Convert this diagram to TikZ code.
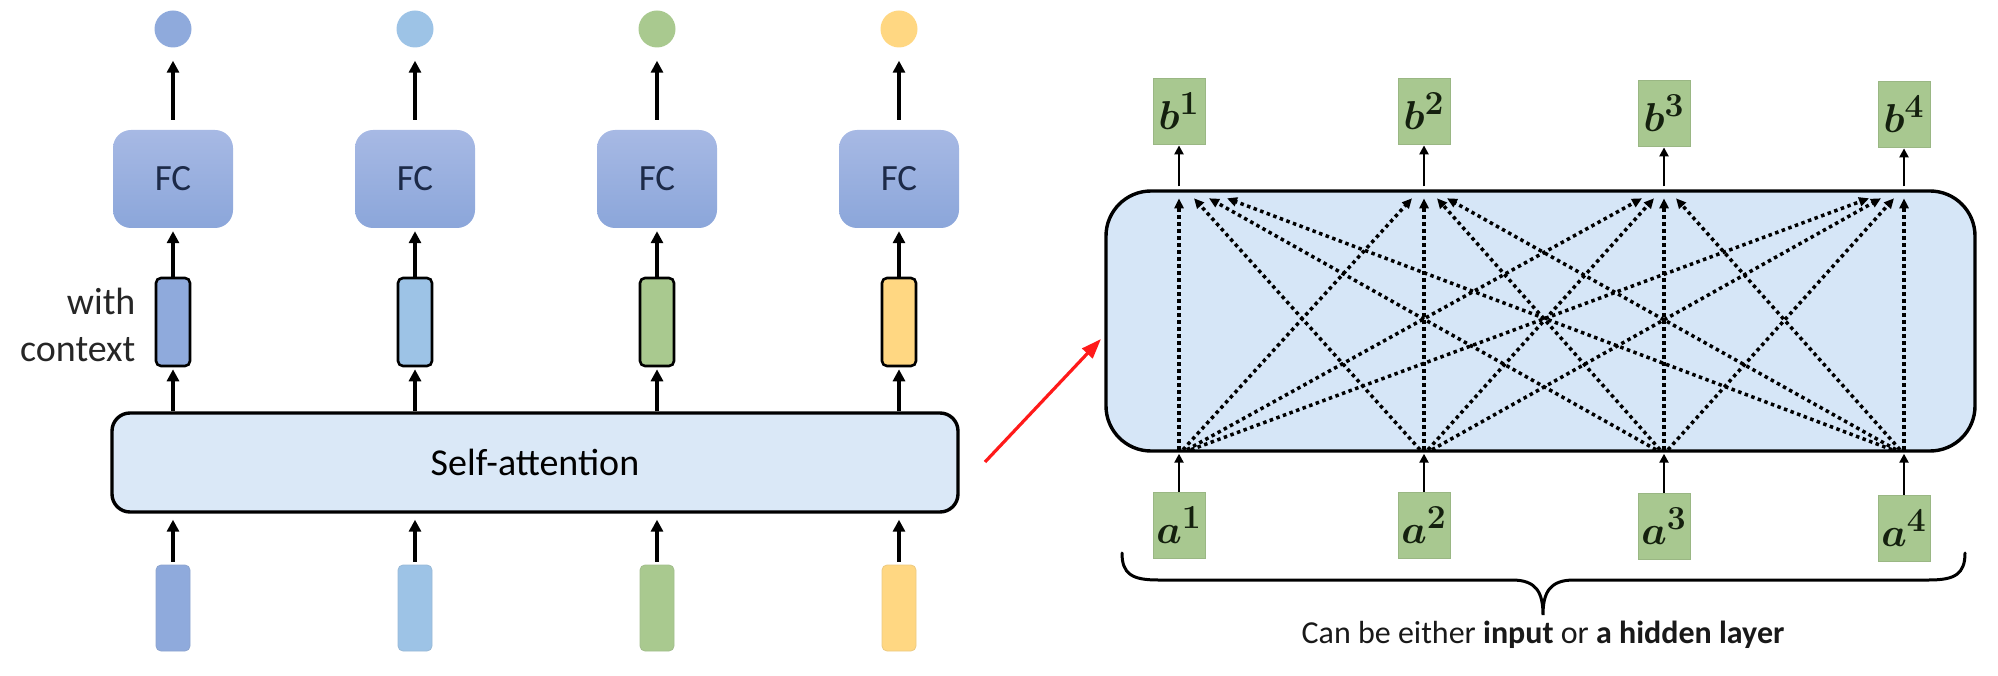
\documentclass[tikz,border=0pt]{standalone}
\usepackage[no-math]{fontspec}
\setmainfont{Carlito}
\usepackage{bm}
\usepackage{graphicx}
\usetikzlibrary{arrows.meta,calc}
\definecolor{cA}{HTML}{8FAADC}
\definecolor{cB}{HTML}{9DC3E6}
\definecolor{cC}{HTML}{A9C98F}
\definecolor{cD}{HTML}{FFD782}
\definecolor{fcTop}{HTML}{A7B9E4}
\definecolor{fcBot}{HTML}{8BA6DA}
\definecolor{fcText}{HTML}{1C2A48}
\definecolor{saFill}{HTML}{DAE8F7}
\definecolor{rbFill}{HTML}{D6E6F7}
\definecolor{gFill}{HTML}{A8C890}
\definecolor{gLine}{HTML}{9AB784}
\definecolor{gText}{HTML}{14200E}
\definecolor{redA}{HTML}{FF1A1A}
\newcommand{\glab}[2]{\scalebox{1.62}{$\bm{#1}^{\mathbf{#2}}$}}
\begin{document}
\begin{tikzpicture}[x=1pt,y=-1pt,
  outc/.style={circle, minimum size=37pt, inner sep=0pt},
  fcbox/.style={rectangle, rounded corners=18pt, minimum width=120pt, minimum height=98pt,
    top color=fcTop, bottom color=fcBot, text=fcText, inner sep=0pt,
    font=\fontsize{37}{40}\selectfont},
  ctxbox/.style={rectangle, rounded corners=5pt, minimum width=34pt, minimum height=88pt,
    draw=black, line width=2.6pt, inner sep=0pt},
  inbox/.style={rectangle, rounded corners=5pt, minimum width=34pt, minimum height=86pt, inner sep=0pt},
  sabox/.style={rectangle, rounded corners=18pt, draw=black, line width=3.4pt, fill=saFill,
    minimum width=846pt, minimum height=99pt, inner sep=0pt, font=\fontsize{38}{42}\selectfont},
  rbox/.style={rectangle, rounded corners=45pt, draw=black, line width=3.4pt, fill=rbFill,
    minimum width=869pt, minimum height=260pt, inner sep=0pt},
  gbox/.style={rectangle, fill=gFill, draw=gLine, line width=0.8pt, minimum width=52pt,
    minimum height=66pt, inner sep=0pt, text=gText, font=\fontsize{24.88}{28}\selectfont},
  arr/.style={-{Triangle[length=12pt,width=12pt]}, line width=3.6pt},
  sarr/.style={-{Triangle[length=9pt,width=9pt]}, line width=2.8pt},
  dotarr/.style={line width=3.5pt, dash pattern=on 3.5pt off 3.5pt, -{Triangle[length=10pt,width=9pt]}},
  redarr/.style={draw=redA, line width=3.2pt, -{Triangle[length=20pt,width=14pt]}}
]
\useasboundingbox (0,0) rectangle (1998,676);

% ---------- left part ----------
\foreach \x/\c [count=\i] in {173/cA,415/cB,657/cC,899/cD} {
  \node[outc, fill=\c] (o\i) at (\x,29) {};
  \node[fcbox] (fc\i) at (\x,179) {FC};
  \node[ctxbox, fill=\c] (h\i) at (\x,322) {};
  \node[inbox, fill=\c, draw=\c!85!gray, line width=0.8pt] (in\i) at (\x,608) {};
}
\node[sabox] (SA) at (535,462.5) {Self-attention};
\node[align=right, anchor=east, font=\fontsize{38}{47}\selectfont, text=black!85] (wc) at (139,325) {with\\context};

\foreach \i in {1,...,4} {
  \draw[arr, shorten <=10pt, shorten >=13pt] (fc\i.north) -- (o\i.south);
  \draw[arr, shorten >=3pt] (h\i.north) -- (fc\i.south);
  \draw[arr, shorten >=2pt] (SA.north -| h\i) -- (h\i.south);
  \draw[arr, shorten <=3pt, shorten >=6pt] (in\i.north) -- (in\i |- SA.south);
}

% ---------- red arrow ----------
\coordinate (rs) at (985,462);
\coordinate (re) at (1101,339);
\draw[redarr] (rs) -- (re);

% ---------- right part ----------
\node[rbox] (R) at (1540.5,321) {};
\foreach \x/\yb/\ya [count=\i] in {1179/111/525,1424/111/525,1664/113/526,1904/114/528} {
  \node[gbox] (b\i) at (\x,\yb) {\glab{b}{\i}};
  \node[gbox] (a\i) at (\x,\ya) {\glab{a}{\i}};
  \draw[sarr, shorten <=3pt, shorten >=1pt] (b\i |- R.north) -- (b\i.south);
  \draw[sarr, shorten >=1pt] (a\i.north) -- (a\i |- R.south);
}
\foreach \i/\j/\off in {1/1/0,2/1/15,3/1/30,4/1/48,
                        1/2/-12,2/2/0,3/2/13,4/2/23,
                        1/3/-22,2/3/-10,3/3/0,4/3/12,
                        1/4/-35,2/4/-23,3/4/-10,4/4/0} {
  \coordinate (s\i\j) at ($(a\i |- R.south)+({4*(\j-\i)},-3)$);
  \coordinate (e\i\j) at ($(b\j |- R.north)+(\off,9)$);
  \draw[dotarr] (s\i\j) -- (e\i\j);
}

% ---------- brace ----------
\draw[line width=3pt, line cap=round]
  (1122,553) .. controls (1122,574) and (1132,580) .. (1158,580)
  -- (1512,580) .. controls (1536,580) and (1543,592) .. (1543,615)
  .. controls (1543,592) and (1550,580) .. (1574,580)
  -- (1929,580) .. controls (1955,580) and (1965,574) .. (1965,553);
\node[anchor=base, font=\fontsize{32}{38}\selectfont, text=black!90] (cap) at (1543,643)
  {Can be either \textbf{input} or \textbf{a hidden layer}};
\end{tikzpicture}
\end{document}
